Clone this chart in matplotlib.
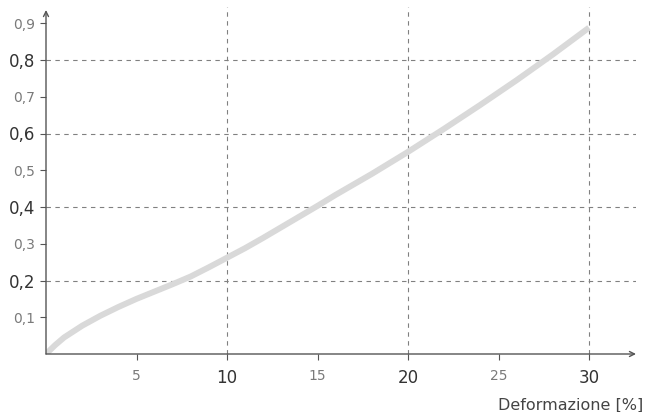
import matplotlib
matplotlib.use("Agg")
import matplotlib.pyplot as plt

plt.rcParams['font.family'] = ['DejaVu Sans']

# curva
deform = [0, 0.5, 1, 2, 3, 4, 5, 6, 7, 8, 9, 10, 11, 12, 13, 14, 15, 16, 18, 20,
          22, 24, 26, 28, 30]
valori = [0, 0.024, 0.045, 0.077, 0.104, 0.128, 0.15, 0.17, 0.19, 0.211, 0.236, 0.262,
          0.288, 0.316, 0.345, 0.374, 0.403, 0.433, 0.49, 0.55, 0.613, 0.678, 0.745,
          0.815, 0.888]

x_ticks = [5, 10, 15, 20, 25, 30]
x_labels = ['5', '10', '15', '20', '25', '30']
y_ticks = [0.1, 0.2, 0.3, 0.4, 0.5, 0.6, 0.7, 0.8, 0.9]
y_labels = ['0,1', '0,2', '0,3', '0,4', '0,5', '0,6', '0,7', '0,8', '0,9']
x_major = [10, 20, 30]
y_major = [0.2, 0.4, 0.6, 0.8]

DARK = '#333333'
LIGHT = '#7a7a7a'
AXC = '#555555'

fig = plt.figure(figsize=(6.45, 4.12), dpi=100)
ax = fig.add_axes([46 / 645, 58 / 412, (636 - 46) / 645, (354 - 10) / 412])
ax.set_xlim(0, (636 - 46) / 18.1)
ax.set_ylim(0, (354 - 10) / 367.5)
ytop = (354 - 7) / 367.5

ax.vlines(x_major, 0, ytop, color='#808080', lw=0.8, linestyles=(0, (4, 4)),
          zorder=1, clip_on=False)
for v in y_major:
    ax.axhline(v, color='#808080', lw=0.8, ls=(0, (4, 4)), zorder=1)

ax.plot(deform, valori, color='#d9d9d9', lw=4.3, solid_capstyle='butt', zorder=3)

for s in ax.spines.values():
    s.set_visible(False)

ax.annotate('', xy=(1, 0), xycoords='axes fraction', xytext=(0, 0),
            arrowprops=dict(arrowstyle='->', color=AXC, lw=1.0, shrinkA=0, shrinkB=0,
                            mutation_scale=9))
ax.annotate('', xy=(0, 1), xycoords='axes fraction', xytext=(0, 0),
            arrowprops=dict(arrowstyle='->', color=AXC, lw=1.0, shrinkA=0, shrinkB=0,
                            mutation_scale=9))

ax.set_xticks(x_ticks)
ax.set_xticklabels(x_labels)
ax.set_yticks(y_ticks)
ax.set_yticklabels(y_labels)
ax.tick_params(axis='both', length=4.5, width=0.8, color=AXC)
ax.tick_params(axis='x', pad=6)
ax.tick_params(axis='y', pad=3.5)

for t, v in zip(ax.get_xticklabels(), x_ticks):
    if v in x_major:
        t.set_fontsize(12); t.set_color(DARK)
    else:
        t.set_fontsize(10); t.set_color(LIGHT)
for t, v in zip(ax.get_yticklabels(), y_ticks):
    if round(v, 1) in y_major:
        t.set_fontsize(12); t.set_color(DARK)
    else:
        t.set_fontsize(10); t.set_color(LIGHT)

fig.text(643 / 645, 1 - 405 / 412, 'Deformazione [%]', ha='right', va='center',
         fontsize=11.5, color='#444444')

fig.savefig('out.png', dpi=100)
